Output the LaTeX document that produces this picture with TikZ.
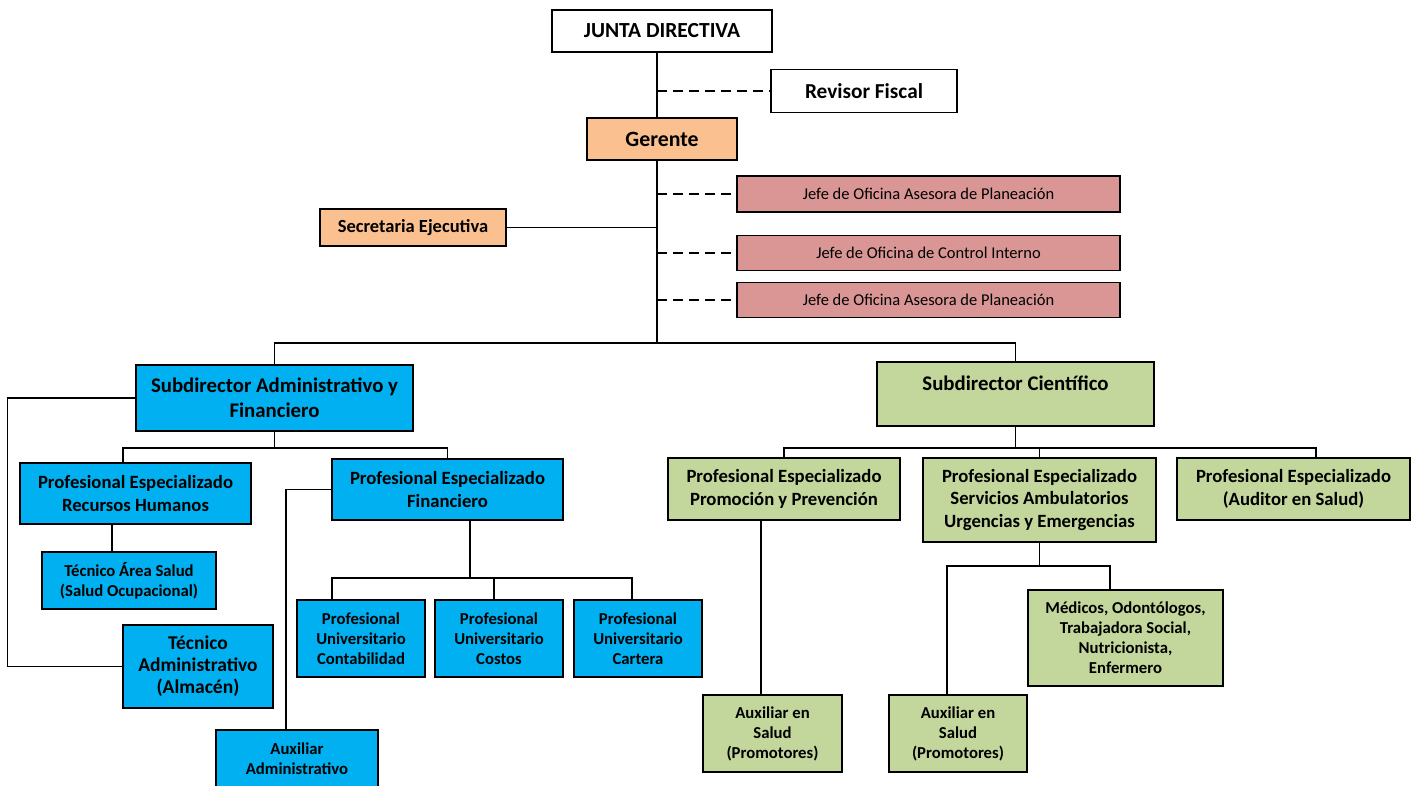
\documentclass[tikz,border=0pt]{standalone}
\usepackage{fontspec}
\setmainfont{Carlito}
\usepackage{xcolor}
\usepackage{tikz}
\usetikzlibrary{arrows,shapes,positioning}
\definecolor{orgblue}{RGB}{0, 176, 240}
\definecolor{orggreen}{RGB}{195, 214, 155}
\definecolor{orgorange}{RGB}{250, 192, 144}
\definecolor{orgpink}{RGB}{217, 150, 148}

\begin{document}
\begin{tikzpicture}[x=1pt, y=-1pt,
    unit/.style={draw=black, line width=1.6pt, align=center, inner sep=2pt},
    bigtxt/.style={font=\fontsize{20.8}{25}\selectfont\bfseries},
    midtxt/.style={font=\fontsize{18.7}{22.5}\selectfont\bfseries},
    smalltxt/.style={font=\fontsize{16.7}{20}\selectfont\bfseries},
    bluebox/.style={unit, fill=orgblue},
    greenbox/.style={unit, fill=orggreen},
    orangebox/.style={unit, fill=orgorange},
    pinkbox/.style={unit, fill=orgpink, font=\fontsize{16.5}{19}\selectfont},
    whitebox/.style={unit, fill=white},
    link/.style={line width=1.4pt},
    dashlink/.style={line width=2pt, dash pattern=on 10pt off 6pt}]
    \useasboundingbox (0,0) rectangle (1415,785);

    % top level
    \node[whitebox, font=\fontsize{21.5}{25}\selectfont\bfseries, minimum width=220, minimum height=42] (junta) at (662,31) {JUNTA DIRECTIVA};
    \node[whitebox, font=\fontsize{21.3}{25}\selectfont\bfseries, minimum width=186, minimum height=43] (revisor) at (864,91) {Revisor Fiscal};
    \node[orangebox, font=\fontsize{21.8}{25}\selectfont\bfseries, minimum width=150, minimum height=42] (gerente) at (662,139) {Gerente};
    \node[orangebox, font=\fontsize{18.5}{22}\selectfont\bfseries, minimum width=186, minimum height=37] (secre) at (413,227.5) {Secretaria Ejecutiva};
    \node[pinkbox, minimum width=383, minimum height=36] (jefe1) at (928.5,194) {Jefe de Oficina Asesora de Planeación};
    \node[pinkbox, minimum width=383, minimum height=35] (jefe2) at (928.5,253) {Jefe de Oficina de Control Interno};
    \node[pinkbox, minimum width=383, minimum height=35] (jefe3) at (928.5,300) {Jefe de Oficina Asesora de Planeación};

    % administrative branch
    \node[bluebox, bigtxt, minimum width=277, minimum height=66] (subadm) at (274.5,398) {Subdirector Administrativo y\\Financiero};
    \node[bluebox, midtxt, minimum width=231, minimum height=61] (rrhh) at (135.5,493.5) {Profesional Especializado\\Recursos Humanos};
    \node[bluebox, smalltxt, minimum width=174, minimum height=57] (tecsal) at (129,580.5) {Técnico Área Salud\\(Salud Ocupacional)};
    \node[bluebox, font=\fontsize{19.5}{22}\selectfont\bfseries, minimum width=150, minimum height=83] (tecadm) at (198,666.5) {Técnico\\Administrativo\\(Almacén)};
    \node[bluebox, midtxt, minimum width=231, minimum height=61] (financ) at (447.5,489.5) {Profesional Especializado\\Financiero};
    \node[bluebox, smalltxt, minimum width=162, minimum height=58] (auxadm) at (297,759) {Auxiliar\\Administrativo};
    \node[bluebox, smalltxt, minimum width=128, minimum height=77] (conta) at (361,638.5) {Profesional\\Universitario\\Contabilidad};
    \node[bluebox, smalltxt, minimum width=128, minimum height=77] (costos) at (499,638.5) {Profesional\\Universitario\\Costos};
    \node[bluebox, smalltxt, minimum width=128, minimum height=77] (cartera) at (638,638.5) {Profesional\\Universitario\\Cartera};

    % scientific branch
    \node[greenbox, bigtxt, minimum width=277, minimum height=64] (subcien) at (1015.5,394) {Subdirector Científico\\[-4pt]};
    \node[greenbox, midtxt, minimum width=232, minimum height=62] (prom) at (784,489) {Profesional Especializado\\Promoción y Prevención};
    \node[greenbox, midtxt, minimum width=233, minimum height=84] (serv) at (1039.5,500) {Profesional Especializado\\Servicios Ambulatorios\\Urgencias y Emergencias};
    \node[greenbox, midtxt, minimum width=233, minimum height=62] (audit) at (1293.5,489) {Profesional Especializado\\(Auditor en Salud)};
    \node[greenbox, smalltxt, minimum width=139, minimum height=77] (aux1) at (772.5,733.5) {Auxiliar en\\Salud\\(Promotores)};
    \node[greenbox, smalltxt, minimum width=138, minimum height=77] (aux2) at (958,733.5) {Auxiliar en\\Salud\\(Promotores)};
    \node[greenbox, smalltxt, minimum width=195, minimum height=96] (medicos) at (1125.5,638) {Médicos, Odontólogos,\\Trabajadora Social,\\Nutricionista,\\Enfermero};

    % connector points
    \coordinate (juntabot) at ([xshift=-5pt]junta.south);
    \coordinate (gertop) at ([xshift=-5pt]gerente.north);
    \coordinate (gerbot) at ([xshift=-5pt]gerente.south);
    \path (gerbot) ++(0,182) coordinate (bus1);
    \path (subadm.south) ++(0,16) coordinate (bus2);
    \path ([xshift=22.5pt]financ.south) ++(0,57) coordinate (bus3);
    \path (subcien.south) ++(0,21) coordinate (bus4);
    \path (serv.south) ++(0,23) coordinate (bus5);
    \coordinate (rrhhtop) at ([xshift=-12.5pt]rrhh.north);
    \coordinate (rrhhbot) at ([xshift=-23.5pt]rrhh.south);
    \coordinate (auxadmtop) at ([xshift=-11pt]auxadm.north);
    \coordinate (contatop) at ([xshift=-29pt]conta.north);
    \coordinate (costostop) at ([xshift=-5pt]costos.north);
    \coordinate (carteratop) at ([xshift=-6pt]cartera.north);
    \coordinate (audittop) at ([xshift=22.5pt]audit.north);
    \coordinate (prombot) at ([xshift=-23pt]prom.south);
    \coordinate (aux2top) at ([xshift=-11pt]aux2.north);
    \coordinate (medtop) at ([xshift=-15.5pt]medicos.north);

    % trunk and staff links
    \draw[link] (juntabot) -- (gertop);
    \draw[link] (gerbot) -- (bus1);
    \draw[dashlink] (revisor.west -| juntabot) -- (revisor.west);
    \draw[dashlink] (jefe1.west -| gerbot) -- (jefe1.west);
    \draw[dashlink] (jefe2.west -| gerbot) -- (jefe2.west);
    \draw[dashlink] (jefe3.west -| gerbot) -- (jefe3.west);
    \draw[link] (secre.east) -- (secre.east -| gerbot);
    \draw[link] (subadm.north) |- (bus1) -| (subcien.north);

    % administrative links
    \draw[link] (subadm.south) -- (bus2);
    \draw[link] (rrhhtop) |- (bus2) -| (financ.north);
    \draw[link] (rrhhbot) -- (rrhhbot |- tecsal.north);
    \draw[link] (subadm.west) -- ++(-128,0) |- (tecadm.west);
    \draw[link] (financ.west) -| (auxadmtop);
    \draw[link] ([xshift=22.5pt]financ.south) -- (bus3);
    \draw[link] (contatop) |- (bus3) -| (carteratop);
    \draw[link] (costostop) -- (costostop |- bus3);

    % scientific links
    \draw[link] (subcien.south) -- (bus4);
    \draw[link] (prom.north) |- (bus4) -| (audittop);
    \draw[link] (serv.north) -- (serv.north |- bus4);
    \draw[link] (prombot) -- (prombot |- aux1.north);
    \draw[link] (serv.south) -- (bus5);
    \draw[link] (aux2top) |- (bus5) -| (medtop);
\end{tikzpicture}
\end{document}
